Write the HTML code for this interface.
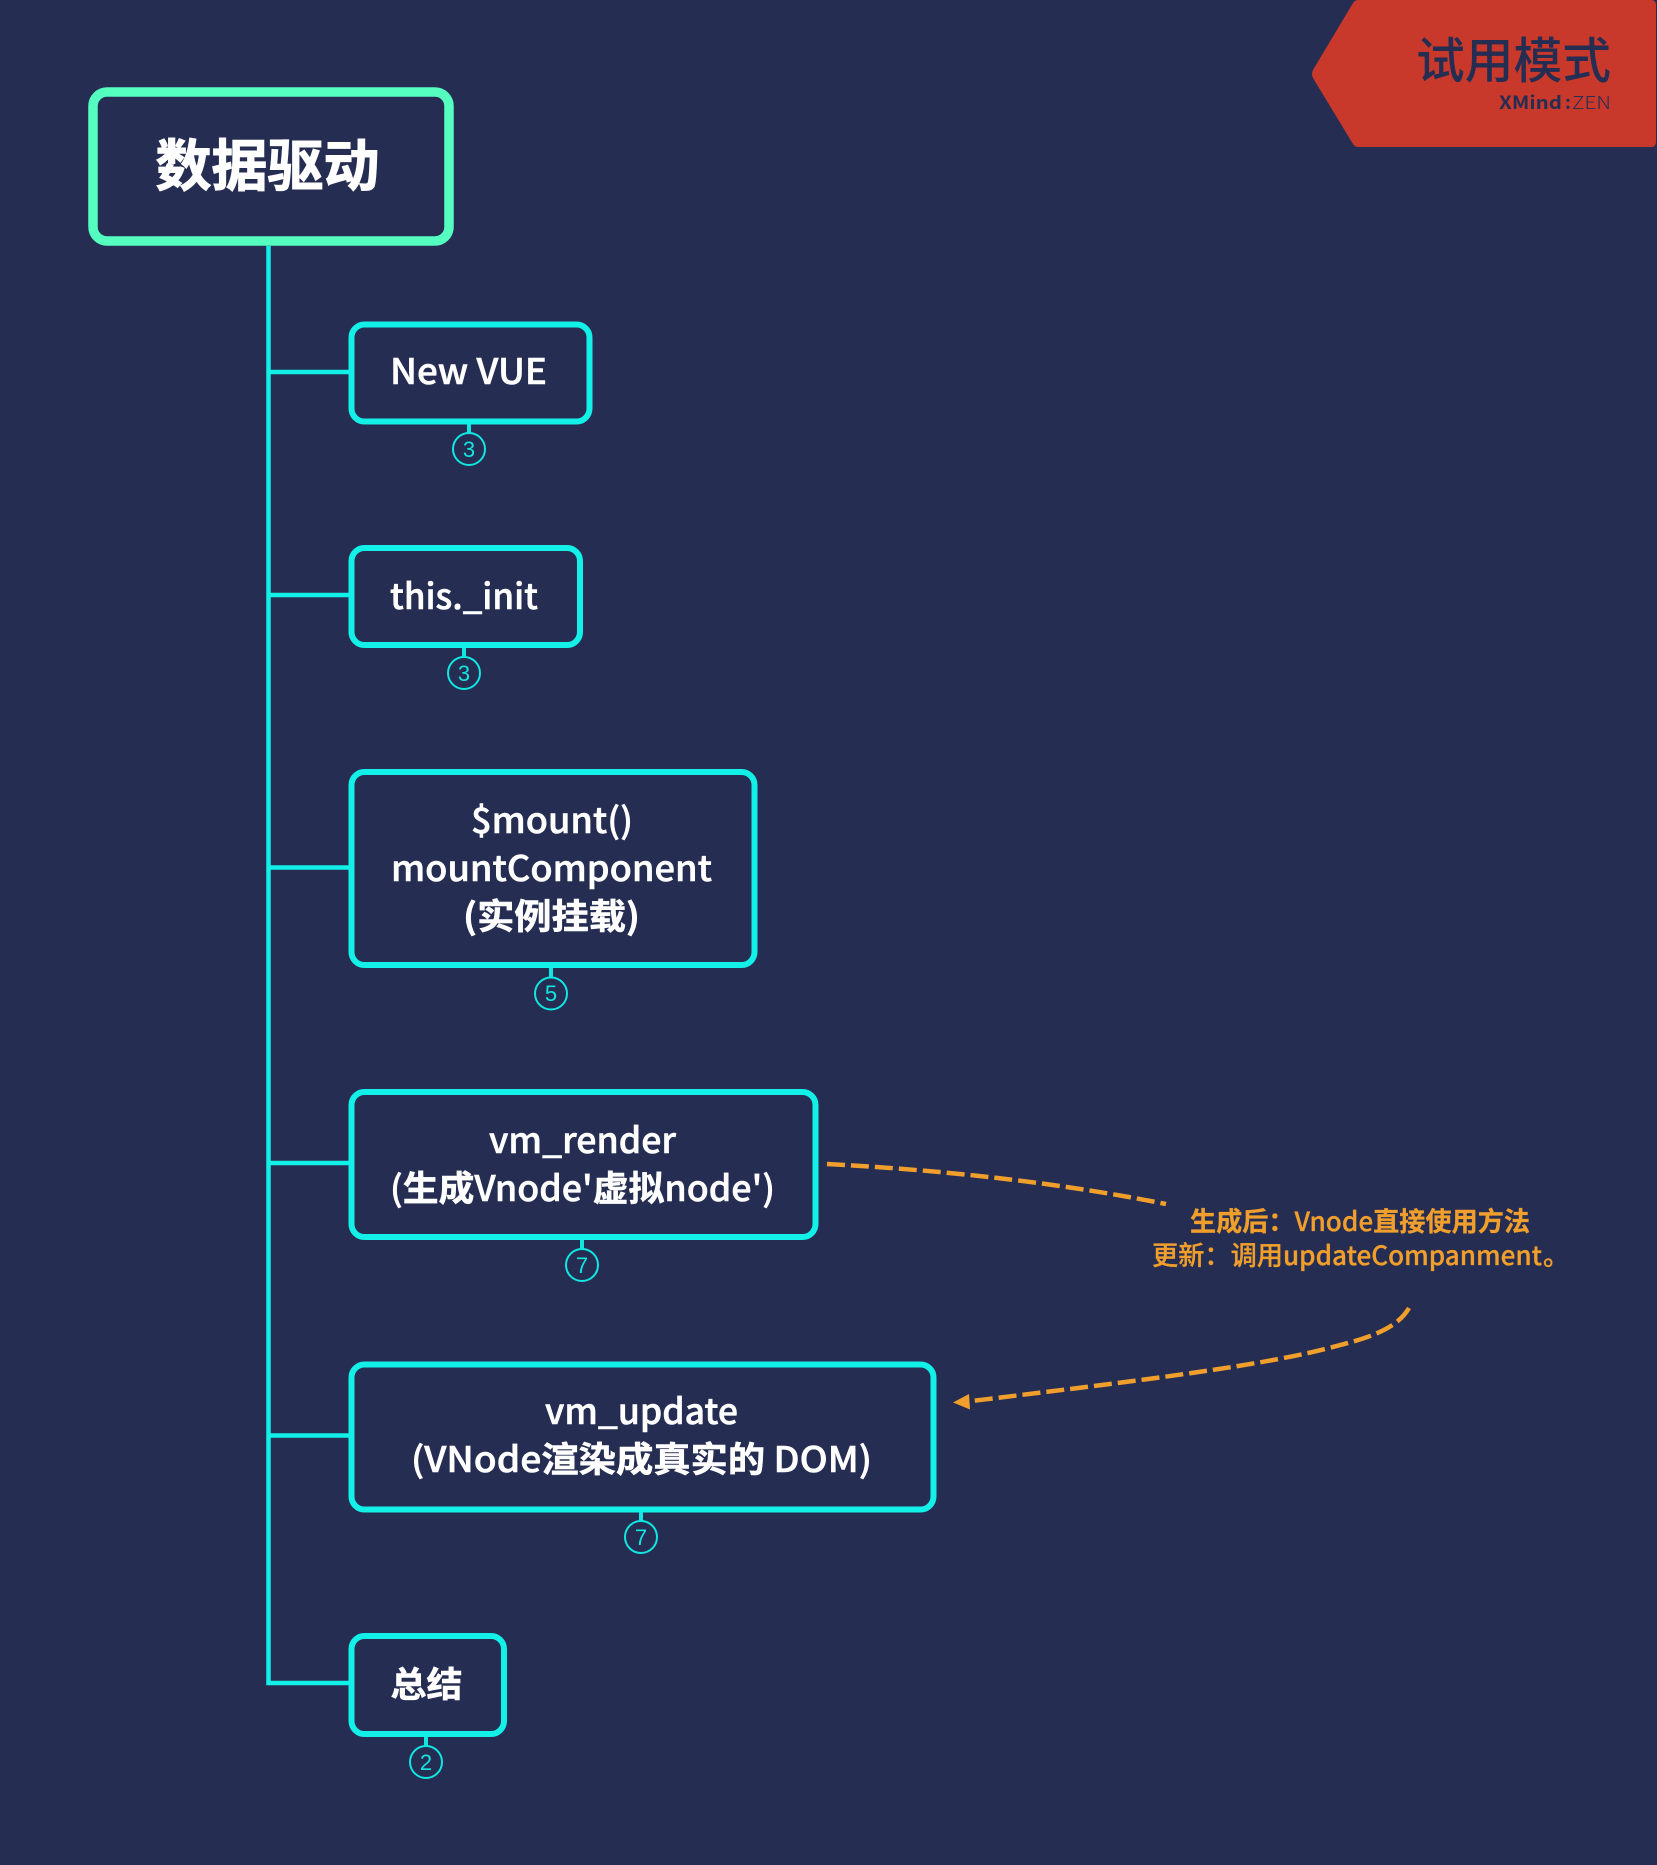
<!DOCTYPE html>
<html><head><meta charset="utf-8">
<style>
html,body{margin:0;padding:0;background:#252d52;}
svg{display:block;}
text{font-family:"Noto Sans CJK SC","Liberation Sans",sans-serif;}
.t{fill:#fff;stroke:#fff;stroke-width:.55px;font-size:35px;font-weight:500;}
.b{font-weight:700;}
.n{fill:#12e6e0;font-size:22px;font-family:"Liberation Sans",sans-serif;text-anchor:middle;}
.o{fill:#f09e2c;stroke:#f09e2c;stroke-width:.3px;font-size:26.5px;font-weight:500;}
</style></head>
<body>
<svg width="1657" height="1865" viewBox="0 0 1657 1865" xmlns="http://www.w3.org/2000/svg">
<rect width="1657" height="1865" fill="#252d52"/>

<!-- trial badge -->
<path d="M1358 0 H1651 Q1656 0 1656 5 V142 Q1656 147 1651 147 H1358 Q1355 147 1353 144 L1313 78 Q1311 74 1313 70 L1353 3 Q1355 0 1358 0 Z" fill="#c8392b"/>
<text x="1416" y="78" font-size="49" font-weight="500" fill="#252d52" textLength="195" lengthAdjust="spacingAndGlyphs">试用模式</text>
<text x="1499" y="109" font-size="18" font-weight="700" fill="#252d52" textLength="63" lengthAdjust="spacingAndGlyphs">XMind</text>
<text x="1565" y="109" font-size="18" font-weight="700" fill="#252d52">:</text>
<text x="1572" y="109" font-size="18" font-weight="300" fill="#252d52" textLength="39" lengthAdjust="spacingAndGlyphs">ZEN</text>

<!-- connectors -->
<g stroke="#12f0e8" stroke-width="4.5" fill="none">
<path d="M268.5 246 V1683 H349"/>
<path d="M268.5 372 H349"/>
<path d="M268.5 595 H349"/>
<path d="M268.5 867.5 H349"/>
<path d="M268.5 1163 H349"/>
<path d="M268.5 1435.5 H349"/>
</g>

<!-- root -->
<rect x="93" y="92" width="356" height="149" rx="14" fill="#252d52" stroke="#54ffc0" stroke-width="9.5"/>
<text x="155.5" y="186" font-size="56" font-weight="700" fill="#fff" stroke="#fff" stroke-width="1" textLength="224" lengthAdjust="spacingAndGlyphs">数据驱动</text>

<!-- children -->
<g fill="#252d52" stroke="#12f0e8" stroke-width="6">
<rect x="351.5" y="324.5" width="238" height="97" rx="13"/>
<rect x="351.5" y="548" width="228.5" height="97" rx="13"/>
<rect x="351.5" y="772" width="403" height="193" rx="13"/>
<rect x="351.5" y="1092" width="464" height="145" rx="13"/>
<rect x="351.5" y="1364.5" width="582" height="145" rx="13"/>
<rect x="351.5" y="1636" width="152.5" height="98" rx="13"/>
</g>

<!-- count badges -->
<g fill="none" stroke="#12e6e0" stroke-width="2">
<circle cx="469" cy="449" r="16"/>
<circle cx="464" cy="673" r="16"/>
<circle cx="551" cy="993.5" r="16"/>
<circle cx="582" cy="1265" r="16"/>
<circle cx="641" cy="1537" r="16"/>
<circle cx="426" cy="1762" r="16"/>
</g>
<g stroke="#12e6e0" stroke-width="4" fill="none">
<path d="M469 424 V433"/>
<path d="M464 648 V657"/>
<path d="M551 968 V977"/>
<path d="M582 1240 V1249"/>
<path d="M641 1512 V1521"/>
<path d="M426 1737 V1746"/>
</g>
<text class="n" x="469" y="457">3</text>
<text class="n" x="464" y="681">3</text>
<text class="n" x="551" y="1001">5</text>
<text class="n" x="582" y="1273">7</text>
<text class="n" x="641" y="1545">7</text>
<text class="n" x="426" y="1770">2</text>

<!-- labels -->
<text class="t" x="390" y="384" textLength="157" lengthAdjust="spacingAndGlyphs">New VUE</text>
<text class="t" x="390" y="609" textLength="148" lengthAdjust="spacingAndGlyphs">this._init</text>

<text class="t" x="471" y="833" textLength="162" lengthAdjust="spacingAndGlyphs">$mount()</text>
<text class="t" x="391" y="881" textLength="321" lengthAdjust="spacingAndGlyphs">mountComponent</text>
<text class="t b" x="463" y="929" textLength="177" lengthAdjust="spacingAndGlyphs">(实例挂载)</text>

<text class="t" x="489" y="1153" textLength="187" lengthAdjust="spacingAndGlyphs">vm_render</text>
<text class="t" x="390" y="1201" textLength="385" lengthAdjust="spacingAndGlyphs">(<tspan class="b">生成</tspan>Vnode'<tspan class="b">虚拟</tspan>node')</text>

<text class="t" x="545" y="1424" textLength="193" lengthAdjust="spacingAndGlyphs">vm_update</text>
<text class="t" x="411" y="1472" textLength="461" lengthAdjust="spacingAndGlyphs">(VNode<tspan class="b">渲染成真实的</tspan> DOM)</text>

<text class="t b" x="390.5" y="1697" textLength="72" lengthAdjust="spacingAndGlyphs">总结</text>

<!-- note -->
<text class="o" x="1190" y="1231" textLength="340" lengthAdjust="spacingAndGlyphs"><tspan class="b">生成后：</tspan>Vnode<tspan class="b">直接使用方法</tspan></text>
<text class="o b" x="1152" y="1265" textLength="131" lengthAdjust="spacingAndGlyphs">更新：调用</text>
<text class="o" x="1283" y="1265" textLength="259" lengthAdjust="spacingAndGlyphs">updateCompanment</text>
<text class="o" x="1543" y="1265">。</text>

<!-- dashed relationship -->
<g fill="none" stroke="#f09e2c" stroke-width="4.5" stroke-dasharray="18 6">
<path d="M827 1164 C920 1169 1040 1179 1166 1204"/>
<path d="M1409 1308 C1395 1332 1360 1340 1325 1349 C1250 1368 1110 1384 972 1401"/>
</g>
<path d="M953 1402.5 L969 1394 L970 1409.5 Z" fill="#f09e2c"/>
</svg>
</body></html>
